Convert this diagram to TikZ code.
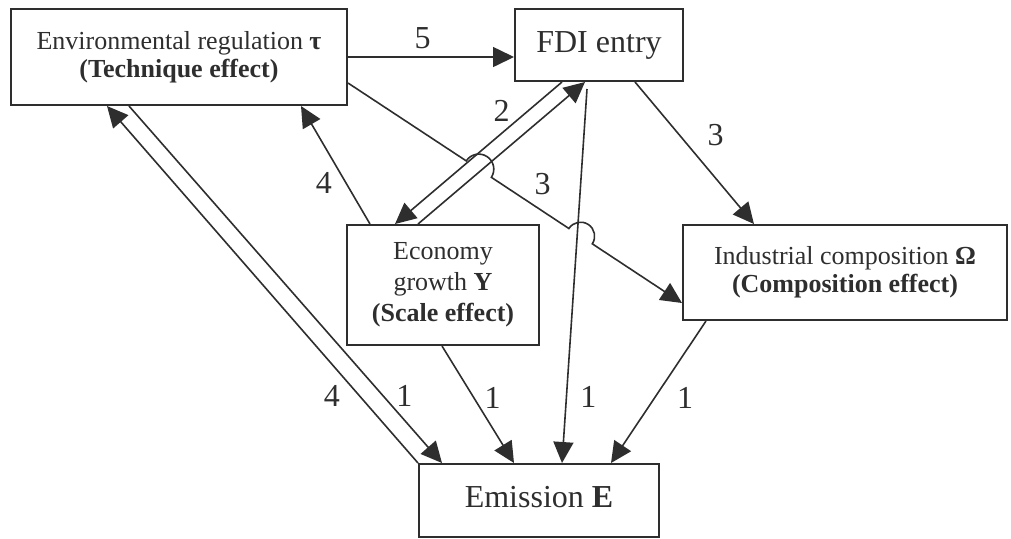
\documentclass[tikz,border=0pt]{standalone}
\usepackage{fontspec}
\setmainfont{Liberation Serif}
\usepackage{tikz}
\usetikzlibrary{arrows.meta,calc}
\colorlet{ink}{black!82}
\newcommand\boxfont{\fontsize{13}{14}\selectfont}
\newcommand\bigboxfont{\fontsize{16}{18}\selectfont}

\begin{document}
\begin{tikzpicture}[x=0.5pt,y=-0.5pt,
    box/.style={draw=ink, line width=1pt, inner sep=0pt, align=center, text=ink, font=\boxfont},
    conn/.style={draw=ink, line width=0.8pt, -{Triangle[length=10.5pt,width=10pt]}},
    lbl/.style={text=ink, font=\bigboxfont, inner sep=0pt}]
    \useasboundingbox (0,0) rectangle (1011,538);

    \node[box, minimum width=168pt, minimum height=48pt, text depth=3pt] (env) at (179,57) {Environmental regulation \textbf{τ}\\ \textbf{(Technique effect)}};
    \node[box, minimum width=84pt, minimum height=36pt, font=\bigboxfont] (fdi) at (599,45) {FDI entry};
    \node[box, minimum width=96pt, minimum height=60pt, font=\fontsize{13}{15.5}\selectfont] (econ) at (443,285) {Economy\\ growth \textbf{Y}\\ \textbf{(Scale effect)}};
    \node[box, minimum width=162pt, minimum height=47.5pt] (ind) at (845,272.5) {Industrial composition \textbf{Ω}\\ \textbf{(Composition effect)}};
    \node[box, minimum width=120pt, minimum height=36.5pt, font=\bigboxfont, text depth=3.5pt] (emis) at (539,500.5) {Emission \textbf{E}};

    \coordinate (envR) at ($(env.south east)+(0,-23)$);
    \coordinate (indL) at ($(ind.south west)+(0,-18)$);

    \draw[conn] (env.east) -- (env.east -| fdi.west) node[lbl, pos=0.45, yshift=9.5pt] (l5) {5};

    % two line hops on the way to the composition box
    \draw[conn] (envR) -- ($(envR)!70.8pt!(indL)$)
        arc[start angle=146.8, end angle=-33.2, radius=7.5pt]
        -- ($(envR)!132.25pt!(indL)$) node[lbl, pos=0.66, yshift=13.5pt] (l3a) {3}
        arc[start angle=146.8, end angle=-33.2, radius=7pt]
        -- (indL);

    \draw[conn] ($(fdi.south west)+(48,0)$) -- ($(econ.north west)+(49,0)$) node[lbl, pos=0.2, xshift=-13.5pt] (l2) {2};
    \draw[conn] ($(econ.north west)+(72,0)$) -- ($(fdi.south west)+(71,0)$);
    \draw[conn] ($(econ.north west)+(24,0)$) -- ($(env.south west)+(291,0)$) node[lbl, pos=0.35, xshift=-11pt] (l4a) {4};
    \draw[conn] (emis.north west) -- ($(env.south west)+(97,0)$) node[lbl, pos=0.187, xshift=-14pt] (l4b) {4};
    \draw[conn] ($(env.south west)+(119,0)$) -- ($(emis.north west)+(24,0)$) node[lbl, pos=0.813, xshift=10.5pt] (l1a) {1};
    \draw[conn] ($(fdi.south west)+(121,0)$) -- ($(ind.north west)+(72,0)$) node[lbl, pos=0.375, xshift=18pt] (l3b) {3};
    \draw[conn] ($(fdi.south west)+(73,7)$) -- ($(emis.north west)+(144,0)$) node[lbl, pos=0.824, xshift=11pt] (l1b) {1};
    \draw[conn] ($(econ.south west)+(96,0)$) -- ($(emis.north west)+(96,0)$) node[lbl, pos=0.44, xshift=9.5pt] (l1c) {1};
    \draw[conn] ($(ind.south west)+(24,0)$) -- ($(emis.north west)+(193,0)$) node[lbl, pos=0.545, xshift=15.5pt] (l1d) {1};
\end{tikzpicture}
\end{document}
